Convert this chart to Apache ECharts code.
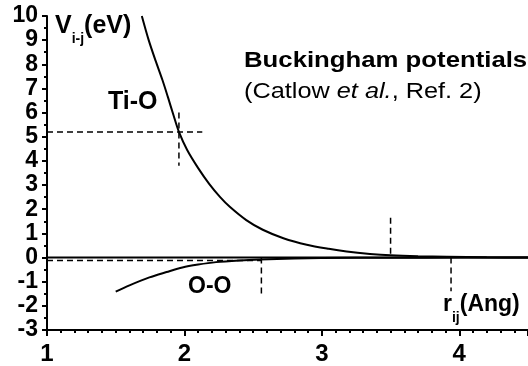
<!DOCTYPE html>
<html>
<head>
<meta charset="utf-8">
<script src="https://cdn.jsdelivr.net/npm/echarts@6/dist/echarts.min.js"></script>
<style>
html,body{margin:0;padding:0;background:#fff;}
#main{width:528px;height:366px;}
</style>
</head>
<body>
<div id="main"></div>
<script>
var mychart = echarts.init(document.getElementById('main'), null, {renderer: 'canvas'});

// Ti-O potential (r in Angstrom, V in eV)
var tiO_r = [1.69, 1.74, 1.79, 1.84, 1.88, 1.92, 1.96, 2.02, 2.10, 2.18, 2.26, 2.33, 2.45, 2.57, 2.72, 2.89, 3.05, 3.18, 3.35, 3.50, 3.70, 3.91, 4.20, 4.50];
var tiO_v = [10.0, 9.0, 8.15, 7.35, 6.64, 5.9, 5.2, 4.45, 3.7, 3.05, 2.5, 2.1, 1.55, 1.15, 0.8, 0.53, 0.36, 0.25, 0.15, 0.09, 0.05, 0.03, 0.01, 0.0];

// O-O potential
var oO_r = [1.50, 1.60, 1.745, 1.87, 1.985, 2.10, 2.23, 2.40, 2.55, 2.80, 3.00, 3.50, 4.00, 4.50];
var oO_v = [-1.41, -1.15, -0.82, -0.6, -0.41, -0.29, -0.19, -0.12, -0.08, -0.04, -0.02, -0.01, 0.0, 0.0];

// dashed guide lines [x1, y1, x2, y2]
var guides = [
  [1.0, 5.2, 2.13, 5.2],
  [1.96, 6.0, 1.96, 3.8],
  [1.0, -0.12, 2.56, -0.12],
  [2.56, 0.0, 2.56, -1.65],
  [3.50, 1.65, 3.50, 0.0],
  [3.94, 0.0, 3.94, -1.4]
];

var xTicks = [1, 2, 3, 4];
var yTicks = [-3, -2, -1, 0, 1, 2, 3, 4, 5, 6, 7, 8, 9, 10];

function zip(a, b) {
  var out = [];
  for (var i = 0; i < a.length; i++) out.push([a[i], b[i]]);
  return out;
}

var font = 'Liberation Sans, Arial, sans-serif';
var series = [
  {
    type: 'line', data: [[1, 0], [4.5, 0]], showSymbol: false, silent: true,
    lineStyle: {color: '#000', width: 2}, z: 2
  },
  {
    name: 'Ti-O', type: 'line', data: zip(tiO_r, tiO_v), smooth: 0.3, showSymbol: false,
    lineStyle: {color: '#000', width: 2}, z: 3
  },
  {
    name: 'O-O', type: 'line', data: zip(oO_r, oO_v), smooth: 0.3, showSymbol: false,
    lineStyle: {color: '#000', width: 2}, z: 3
  }
];
guides.forEach(function (g) {
  series.push({
    type: 'line', data: [[g[0], g[1]], [g[2], g[3]]], showSymbol: false, silent: true,
    lineStyle: {color: '#000', width: 1.5, type: [6, 4]}, z: 4
  });
});

var option = {
  animation: false,
  backgroundColor: '#fff',
  grid: {left: 47, right: 0, top: 16, bottom: 36},
  xAxis: {
    type: 'value', min: 1, max: 4.5, interval: 1,
    axisLine: {onZero: false, lineStyle: {color: '#000', width: 2}},
    axisTick: {show: true, length: 6, lineStyle: {color: '#000', width: 2}},
    minorTick: {show: true, splitNumber: 10, length: 3, lineStyle: {color: '#000', width: 2}},
    splitLine: {show: false},
    axisLabel: {
      color: '#000', fontFamily: font, fontWeight: 'bold', fontSize: 24, margin: 12,
      showMaxLabel: false,
      formatter: function (v) { return xTicks.indexOf(v) >= 0 ? String(v) : ''; }
    }
  },
  yAxis: {
    type: 'value', min: -3, max: 10, interval: 1,
    axisLine: {onZero: false, lineStyle: {color: '#000', width: 2}},
    axisTick: {show: true, length: 5, lineStyle: {color: '#000', width: 2}},
    minorTick: {show: true, splitNumber: 2, length: 3, lineStyle: {color: '#000', width: 2}},
    splitLine: {show: false},
    axisLabel: {
      color: '#000', fontFamily: font, fontWeight: 'bold', fontSize: 23, margin: 9,
      formatter: function (v) { return yTicks.indexOf(v) >= 0 ? String(v) : ''; }
    }
  },
  graphic: [
    {
      type: 'text', left: 55, top: 14,
      style: {
        text: '{b|V}{s|i-j}{b|(eV)}',
        rich: {
          b: {fontFamily: font, fontWeight: 'bold', fontSize: 25, color: '#000', lineHeight: 32, verticalAlign: 'top'},
          s: {fontFamily: font, fontWeight: 'bold', fontSize: 14, color: '#000', lineHeight: 32, verticalAlign: 'bottom'}
        }
      }
    },
    {
      type: 'text', left: 108, top: 90,
      style: {text: 'Ti-O', fontFamily: font, fontWeight: 'bold', fontSize: 25, fill: '#000'}
    },
    {
      type: 'text', left: 188, top: 275,
      style: {text: 'O-O', fontFamily: font, fontWeight: 'bold', fontSize: 23, fill: '#000'}
    },
    {
      type: 'text', left: 443, top: 293,
      style: {
        text: '{b|r}{s|ij}{b|(Ang)}',
        rich: {
          b: {fontFamily: font, fontWeight: 'bold', fontSize: 23, color: '#000', lineHeight: 32, verticalAlign: 'top'},
          s: {fontFamily: font, fontWeight: 'bold', fontSize: 14, color: '#000', lineHeight: 32, verticalAlign: 'bottom'}
        }
      }
    },
    {
      type: 'text', x: 244, y: 50, scaleX: 1.17,
      style: {text: 'Buckingham potentials', fontFamily: font, fontWeight: 'bold', fontSize: 22, fill: '#000'}
    },
    {
      type: 'text', x: 244, y: 81, scaleX: 1.15,
      style: {
        text: '{n|(Catlow }{i|et al.}{n|, Ref. 2)}',
        rich: {
          n: {fontFamily: font, fontSize: 22, color: '#000'},
          i: {fontFamily: font, fontSize: 22, fontStyle: 'italic', color: '#000'}
        }
      }
    }
  ],
  series: series
};
mychart.setOption(option);
</script>
</body>
</html>
